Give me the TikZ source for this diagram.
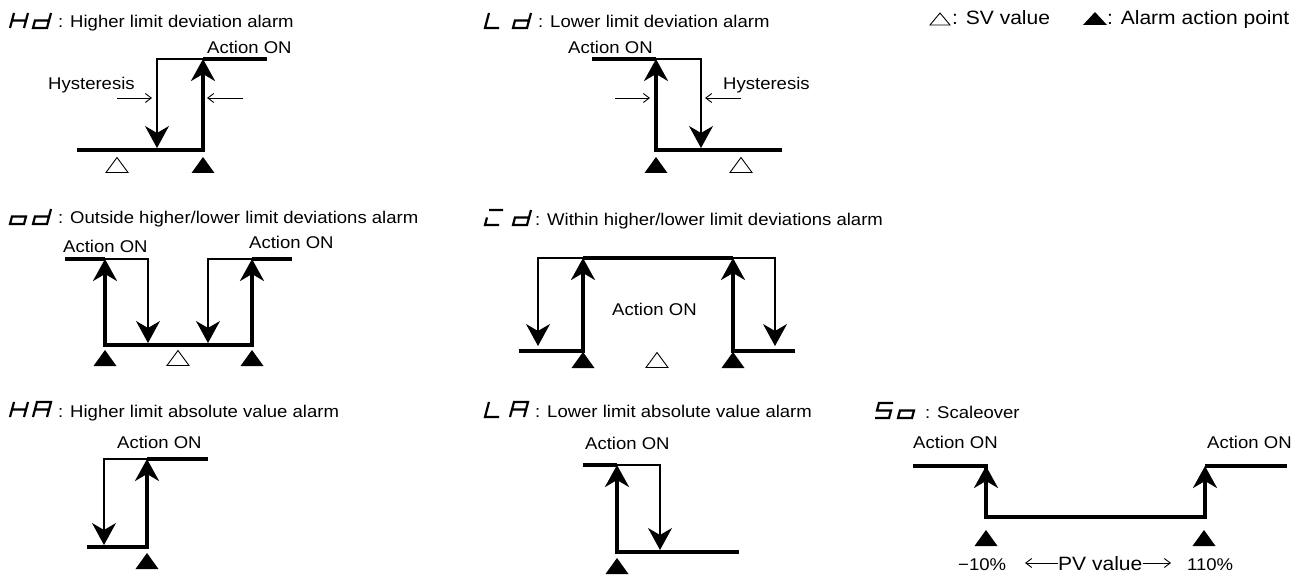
\documentclass[tikz,border=0pt]{standalone}
\usepackage{fontspec}
\setmainfont{Liberation Sans}[FakeStretch=1.09]
\usetikzlibrary{arrows.meta}
\newcommand{\fs}{\fontsize{17}{19}\selectfont}
\newcommand{\fb}{\fontsize{19.3}{22}\selectfont}
% seven-segment glyph: #1 = left x of bottom, #2 = top y, #3 = path
\newcommand{\sevseg}[3]{%
  \begin{scope}[shift={(#1,#2)}]
    \coordinate (TL) at (4,0);  \coordinate (TR) at (18,0);
    \coordinate (ML) at (2,7.5); \coordinate (MR) at (16,7.5);
    \coordinate (BL) at (0,15); \coordinate (BR) at (14,15);
    \draw[seg] #3;
  \end{scope}}
\newcommand{\Hseg}{(TL)--(BL) (TR)--(BR) (ML)--(MR)}
\newcommand{\dseg}{(TR)--(BR)--(BL)--(ML)--(MR)}
\newcommand{\Lseg}{(TL)--(BL)--(BR)}
\newcommand{\oseg}{(ML)--(MR)--(BR)--(BL)--cycle}
\newcommand{\Cseg}{(TL)--(TR) (ML)--(BL)--(BR)}
\newcommand{\Aseg}{(BL)--(TL)--(TR)--(BR) (ML)--(MR)}
\newcommand{\Sseg}{(TR)--(TL)--(ML)--(MR)--(BR)--(BL)}
\newcommand{\ftri}[2]{\fill (#1-11.5,#2+16) -- (#1,#2) -- (#1+11.5,#2+16) -- cycle;}
\newcommand{\otri}[2]{\draw[line width=0.9pt,line join=miter] (#1-11,#2+15.5) -- (#1,#2+0.5) -- (#1+11,#2+15.5) -- cycle;}
\begin{document}
\begin{tikzpicture}[x=1pt,y=-1pt,
  line join=miter,
  thk/.style={line width=3.3pt},
  thn/.style={line width=1.1pt},
  upa/.style={-{Stealth[length=22pt,width=24pt,inset=7pt]}},
  sm/.style={line width=0.9pt,-{Straight Barb[length=6pt,width=9pt]}},
  lbl/.style={anchor=base west,inner sep=0pt,font=\fs},
  big/.style={anchor=base west,inner sep=0pt,font=\fb},
  seg/.style={line width=2.2pt,line cap=butt}]
\useasboundingbox (0,0) rectangle (1307,575);

% ---------------- legend
\draw[line width=0.9pt] (930,25) -- (940,13) -- (950,25) -- cycle;
\node[big] (sv) at (952,25) {: SV value};
\fill (1083,25) -- (1095,12) -- (1107,25) -- cycle;
\node[big] (ap) at (1107,25) {: Alarm action point};

% ---------------- Hd
\sevseg{10}{13}{\Hseg}
\sevseg{33}{13}{\dseg}
\node[lbl] (tHd) at (58,27.5) {: Higher limit deviation alarm};
\node[lbl] (aHd) at (207,54) {Action ON};
\node[lbl] (hHd) at (48,90) {Hysteresis};
\draw[thn,upa] (203,59) -- (157,59) -- (157,148);
\draw[thk,upa] (77,150) -- (203,150) -- (203,59);
\draw[thk] (203,59) -- (267,59);
\coordinate (h1a) at (117,98); \coordinate (h1b) at (152,98);
\coordinate (h2a) at (243,98); \coordinate (h2b) at (207,98);
\draw[sm] (h1a) -- (h1b);
\draw[sm] (h2a) -- (h2b);
\otri{117}{157}
\ftri{203}{157}

% ---------------- Ld
\sevseg{485}{13}{\Lseg}
\sevseg{513}{13}{\dseg}
\node[lbl] (tLd) at (538,27.5) {: Lower limit deviation alarm};
\node[lbl] (aLd) at (568,54) {Action ON};
\node[lbl] (hLd) at (723,90) {Hysteresis};
\draw[thn,upa] (656,59) -- (701,59) -- (701,148);
\draw[thk,upa] (782,150) -- (656,150) -- (656,59);
\draw[thk] (656,59) -- (592,59);
\coordinate (h3a) at (615,98); \coordinate (h3b) at (650,98);
\coordinate (h4a) at (741,98); \coordinate (h4b) at (705,98);
\draw[sm] (h3a) -- (h3b);
\draw[sm] (h4a) -- (h4b);
\ftri{656}{157}
\otri{741}{157}

% ---------------- od
\sevseg{10}{209}{\oseg}
\sevseg{33}{209}{\dseg}
\node[lbl] (tod) at (58,223.5) {: Outside higher/lower limit deviations alarm};
\node[lbl] (aod1) at (63,252) {Action ON};
\node[lbl] (aod2) at (249,248) {Action ON};
\draw[thn,upa] (105,259) -- (148,259) -- (148,343);
\draw[thn,upa] (252,259) -- (208,259) -- (208,343);
\draw[thk,upa] (252,345) -- (105,345) -- (105,259);
\draw[thk,upa] (105,345) -- (252,345) -- (252,259);
\draw[thk] (65,259) -- (105,259);
\draw[thk] (252,259) -- (292,259);
\ftri{105}{350}
\otri{178}{350}
\ftri{252}{350}

% ---------------- Cd
\sevseg{485}{210}{\Cseg}
\sevseg{513}{210}{\dseg}
\node[lbl] (tCd) at (535,225) {: Within higher/lower limit deviations alarm};
\node[lbl] (aCd) at (612,315) {Action ON};
\draw[thn,upa] (583,258) -- (538,258) -- (538,346);
\draw[thn,upa] (733,258) -- (775,258) -- (775,346);
\draw[thk,upa] (519,351) -- (583,351) -- (583,258);
\draw[thk,upa] (795,351) -- (733,351) -- (733,258);
\draw[thk] (583,258) -- (733,258);
\ftri{583}{352}
\otri{657}{352}
\ftri{733}{352}

% ---------------- HA
\sevseg{10}{402}{\Hseg}
\sevseg{33}{402}{\Aseg}
\node[lbl] (tHA) at (58,417) {: Higher limit absolute value alarm};
\node[lbl] (aHA) at (117,448) {Action ON};
\draw[thn,upa] (147,459) -- (104,459) -- (104,545);
\draw[thk,upa] (87,547) -- (147,547) -- (147,459);
\draw[thk] (147,459) -- (208,459);
\ftri{147}{553}

% ---------------- LA
\sevseg{485}{402}{\Lseg}
\sevseg{510}{402}{\Aseg}
\node[lbl] (tLA) at (535,417) {: Lower limit absolute value alarm};
\node[lbl] (aLA) at (585,449) {Action ON};
\draw[thn,upa] (617,465) -- (660,465) -- (660,550);
\draw[thk,upa] (739,552) -- (617,552) -- (617,465);
\draw[thk] (617,465) -- (583,465);
\ftri{617}{558}

% ---------------- So
\sevseg{875}{403}{\Sseg}
\sevseg{898}{403}{\oseg}
\node[lbl] (tSo) at (925,418) {: Scaleover};
\node[lbl] (aSo1) at (913,448) {Action ON};
\node[lbl] (aSo2) at (1207,448) {Action ON};
\draw[thk,upa] (913,466) -- (986,466) -- (986,517) -- (1205,517) -- (1205,466);
\draw[thk,upa] (1205,517) -- (986,517) -- (986,466);
\draw[thk] (1205,466) -- (1287,466);
\ftri{986}{530}
\ftri{1204}{530}
\node[lbl] (m10) at (958,570) {−10\%};
\node[big] (pv) at (1058,570) {PV value};
\node[lbl] (p110) at (1187,570) {110\%};
\coordinate (pvl) at (1025,563); \coordinate (pvr) at (1171,563);
\draw[sm] (pv.west |- pvl) -- (pvl);
\draw[sm] (pv.east |- pvr) -- (pvr);
\end{tikzpicture}
\end{document}
